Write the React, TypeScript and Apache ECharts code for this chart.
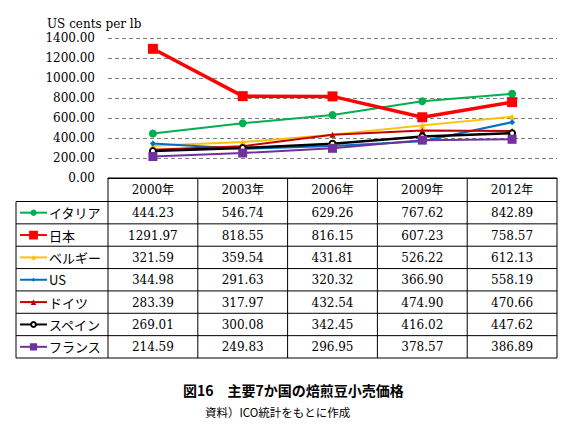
import React, { useEffect, useRef } from "react";
import * as echarts from "echarts";

const categories = ["2000年", "2003年", "2006年", "2009年", "2012年"];
const seriesNames = ["イタリア", "日本", "ベルギー", "US", "ドイツ", "スペイン", "フランス"];
const italy = [444.23, 546.74, 629.26, 767.62, 842.89];
const japan = [1291.97, 818.55, 816.15, 607.23, 758.57];
const belgium = [321.59, 359.54, 431.81, 526.22, 612.13];
const us = [344.98, 291.63, 320.32, 366.9, 558.19];
const germany = [283.39, 317.97, 432.54, 474.9, 470.66];
const spain = [269.01, 300.08, 342.45, 416.02, 447.62];
const france = [214.59, 249.83, 296.95, 378.57, 386.89];
const seriesValues = [italy, japan, belgium, us, germany, spain, france];
const yMin = 0;
const yMax = 1400;
const yStep = 200;
const axisTitle = "US cents per lb";
const captionText = "図16　主要7か国の焙煎豆小売価格";
const sourceText = "資料）ICO統計をもとに作成";

const colors = ["#00B050", "#FF0000", "#FFC000", "#0070C0", "#C00000", "#000000", "#7030A0"];
const symbols = ["circle", "rect", "triangle", "diamond", "triangle", "emptyCircle", "rect"];
const symbolSizes = [8, 10, 6, 6, 6, 6, 9];
const lineWidths = [2, 3.5, 2, 2, 2, 2.5, 2];
const legendIconSizes = [8, 11, 6, 5, 7, 6, 9];

const SERIF = "'DejaVu Serif', 'Noto Sans CJK JP', serif";
const JP = "'Noto Sans CJK JP', sans-serif";

export default function App() {
  const ref = useRef<HTMLDivElement>(null);
  useEffect(() => {
    if (!ref.current) return;
    const chart = echarts.init(ref.current, undefined, { renderer: "svg" });

    const W = 567;
    const gridLeft = 108;
    const gridRight = 10;
    const gridTop = 38;
    const axisY = 178;
    const tableLeft = 16;
    const tableRight = W - gridRight;
    const colW = (tableRight - gridLeft) / categories.length;
    const headerBottom = 201.5;
    const tableBottom = 358;
    const rowH = (tableBottom - headerBottom) / seriesNames.length;

    const graphics: any[] = [];
    const lineStyle = { stroke: "#000", lineWidth: 1 };
    graphics.push({ type: "line", shape: { x1: gridLeft, y1: axisY, x2: tableRight, y2: axisY }, style: lineStyle, z: 10 });
    for (let i = 0; i <= seriesNames.length; i++) {
      const y = headerBottom + i * rowH;
      graphics.push({ type: "line", shape: { x1: tableLeft, y1: y, x2: tableRight, y2: y }, style: lineStyle, z: 10 });
    }
    graphics.push({ type: "line", shape: { x1: tableLeft, y1: headerBottom, x2: tableLeft, y2: tableBottom }, style: lineStyle, z: 10 });
    for (let j = 0; j <= categories.length; j++) {
      const x = gridLeft + j * colW;
      graphics.push({ type: "line", shape: { x1: x, y1: axisY, x2: x, y2: tableBottom }, style: lineStyle, z: 10 });
    }
    categories.forEach((c, j) => {
      graphics.push({
        type: "text",
        x: gridLeft + (j + 0.5) * colW,
        y: (axisY + headerBottom) / 2 + 0.5,
        style: { text: c, fill: "#000", fontFamily: SERIF, fontSize: 12, textAlign: "center", textVerticalAlign: "middle" },
        z: 10,
      });
    });
    seriesValues.forEach((vals, i) => {
      vals.forEach((v, j) => {
        graphics.push({
          type: "text",
          x: gridLeft + (j + 0.5) * colW,
          y: headerBottom + (i + 0.5) * rowH + 0.5,
          style: { text: v.toFixed(2), fill: "#000", fontFamily: SERIF, fontSize: 12, textAlign: "center", textVerticalAlign: "middle" },
          z: 10,
        });
      });
    });

    const series = seriesNames.map((name, i) => ({
      name,
      type: "line",
      data: seriesValues[i],
      symbol: symbols[i],
      symbolSize: symbolSizes[i],
      showSymbol: true,
      z: name === "日本" ? 4 : 2,
      lineStyle: { color: colors[i], width: lineWidths[i] },
      itemStyle: { color: colors[i], borderColor: colors[i], borderWidth: symbols[i] === "emptyCircle" ? 1.2 : 0 },
    }));

    const legends = seriesNames.map((name, i) => ({
      orient: "horizontal",
      left: 19,
      top: headerBottom + (i + 0.5) * rowH - 7,
      itemWidth: 27,
      itemHeight: legendIconSizes[i],
      padding: 0,
      itemGap: 0,
      textStyle: { fontFamily: JP, fontSize: 13, color: "#000", lineHeight: 14, padding: [0, 0, 0, -3] },
      data: [name],
      selectedMode: false,
    }));

    chart.setOption({
      animation: false,
      backgroundColor: "#fff",
      title: [
        { text: axisTitle, left: 42, top: 13, textStyle: { fontFamily: SERIF, fontSize: 12, fontWeight: "normal", color: "#000" } },
        { text: captionText, left: 178, top: 378, textStyle: { fontFamily: JP, fontSize: 14, fontWeight: "bold", color: "#000" } },
        { text: sourceText, left: 200, top: 401, textStyle: { fontFamily: JP, fontSize: 11.5, fontWeight: "normal", color: "#000" } },
      ],
      grid: { left: gridLeft, right: gridRight, top: gridTop, bottom: 426 - axisY, containLabel: false },
      legend: legends,
      xAxis: {
        type: "category",
        data: categories,
        boundaryGap: true,
        axisLine: { show: true, lineStyle: { color: "#000", width: 1 } },
        axisTick: { show: false },
        axisLabel: { show: false },
      },
      yAxis: {
        type: "value",
        min: yMin,
        max: yMax,
        interval: yStep,
        axisLine: { show: false },
        axisTick: { show: false },
        axisLabel: { formatter: (v: number) => v.toFixed(2), fontFamily: SERIF, fontSize: 12, color: "#000", margin: 13 },
        splitLine: { show: true, lineStyle: { color: "#808080", type: [4, 3], width: 1 } },
      },
      graphic: graphics,
      series,
    });
    return () => chart.dispose();
  }, []);
  return <div ref={ref} style={{ position: "fixed", left: 0, top: 0, width: 567, height: 426 }} />;
}
